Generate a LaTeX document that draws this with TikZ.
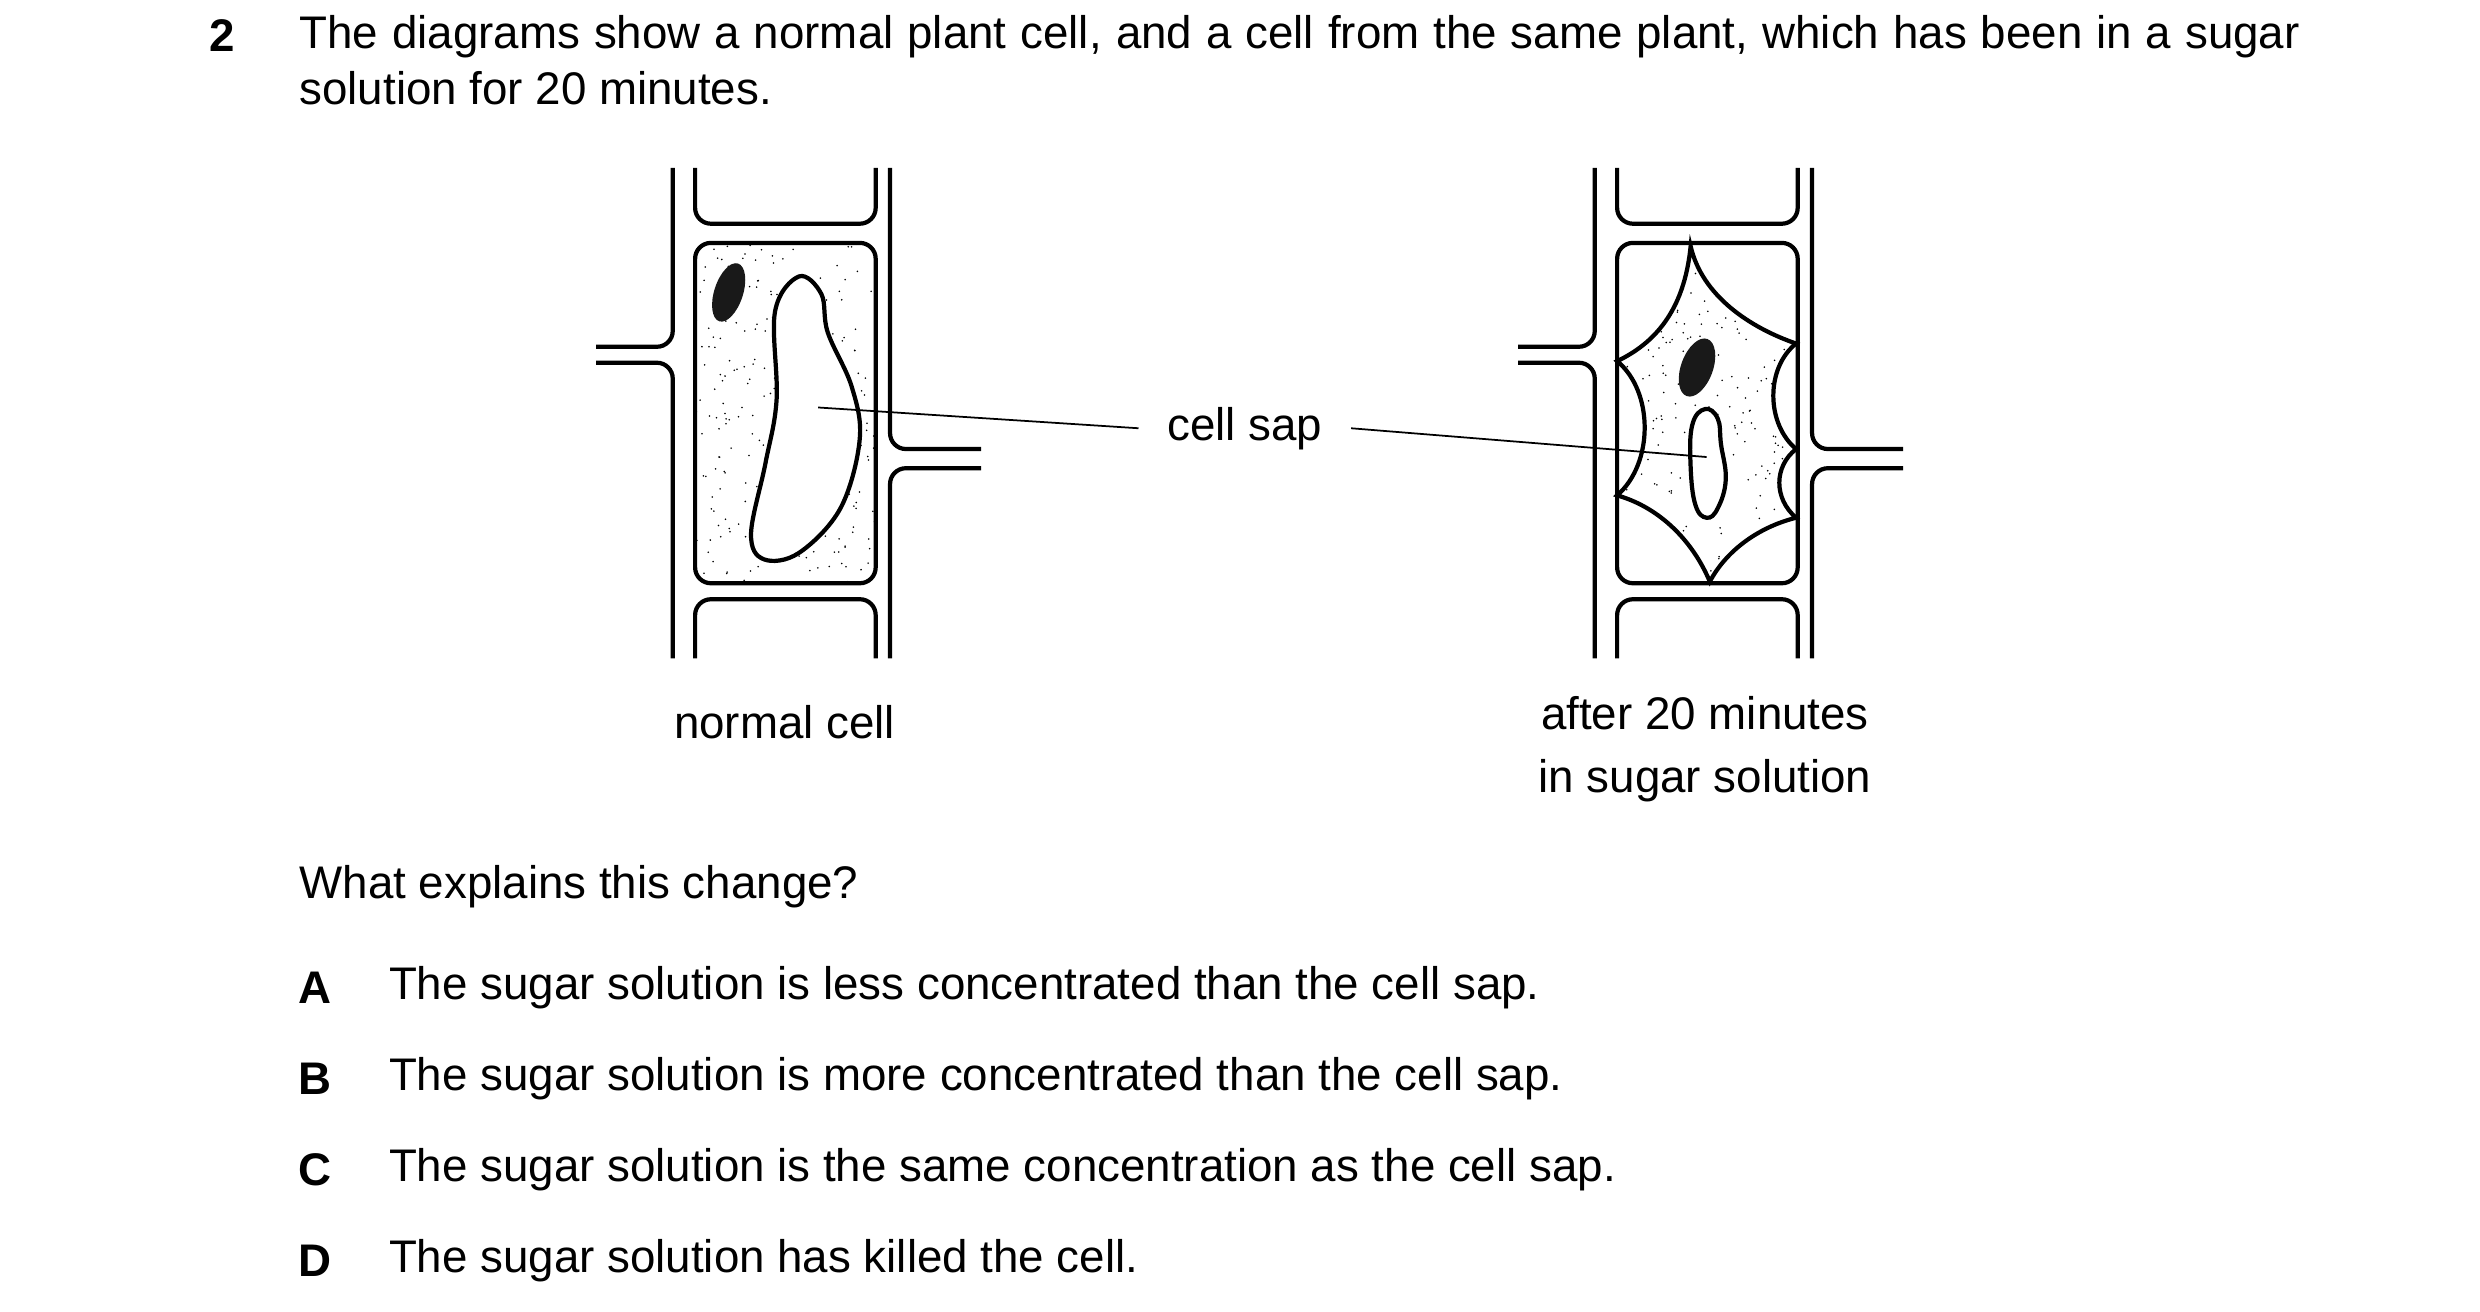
\documentclass[tikz,border=0pt]{standalone}
\usepackage{fontspec}
\setmainfont{Liberation Sans}
\usepackage{tikz}

\tikzset{
  wall/.style={line width=1.2pt, rounded corners=4.5pt},
  sapline/.style={line width=0.5pt},
  txt/.style={inner sep=0pt, font=\fontsize{13pt}{16pt}\selectfont},
}

\begin{document}
\begin{tikzpicture}[x=0.01598cm, y=-0.01598cm]
\useasboundingbox (0,0) rectangle (1552,821);

% question text
\node[txt, font=\fontsize{13pt}{16pt}\selectfont\bfseries] (qnum) at (139,22) {2};
\node[txt, anchor=north west, text width=20cm, align=justify] (qtext) at (187,9)
  {The diagrams show a normal plant cell, and a cell from the same plant, which has been in a sugar solution for 20 minutes.};

% normal cell
\pgfmathsetseed{7}
\begin{scope}
\clip[rounded corners=4.5pt] (435,152) rectangle (548,365);
\foreach \i in {1,...,260}
  \fill ({435+113*rnd},{152+213*rnd}) circle (0.55);
\end{scope}
\draw[wall] (421,105) -- (421,217) -- (373,217);
\draw[wall] (373,227) -- (421,227) -- (421,412);
\draw[wall] (557,105) -- (557,281) -- (614,281);
\draw[wall] (614,293) -- (557,293) -- (557,412);
\draw[wall] (435,105) -- (435,140) -- (548,140) -- (548,105);
\draw[wall] (435,152) rectangle (548,365);
\draw[wall] (435,412) -- (435,375) -- (548,375) -- (548,412);
\draw[line width=1.2pt, fill=white] plot[smooth cycle, tension=0.6] coordinates
  {(500,173) (514,184) (518,208) (533,242) (538,275) (526,318) (500,346) (478,350) (470,334) (479,290) (486,250) (485,195)};
\fill[black!90] (456,183) ellipse[x radius=9, y radius=19, rotate=-18];
\coordinate (vacL) at (512,255);

% after 20 minutes
\pgfmathsetseed{11}
\begin{scope}
\clip (1058,154) .. controls (1054,195) and (1035,215) .. (1012,226)
  .. controls (1035,245) and (1035,290) .. (1012,310)
  .. controls (1040,318) and (1060,340) .. (1070,364)
  .. controls (1080,345) and (1100,330) .. (1124,324)
  .. controls (1110,312) and (1110,292) .. (1124,281)
  .. controls (1105,265) and (1105,230) .. (1124,215)
  .. controls (1095,205) and (1065,185) .. (1058,154);
\foreach \i in {1,...,260}
  \fill ({1012+112*rnd},{154+210*rnd}) circle (0.55);
\end{scope}
\begin{scope}[shift={(577,0)}]
\draw[wall] (421,105) -- (421,217) -- (373,217);
\draw[wall] (373,227) -- (421,227) -- (421,412);
\draw[wall] (557,105) -- (557,281) -- (614,281);
\draw[wall] (614,293) -- (557,293) -- (557,412);
\draw[wall] (435,105) -- (435,140) -- (548,140) -- (548,105);
\draw[wall] (435,152) rectangle (548,365);
\draw[wall] (435,412) -- (435,375) -- (548,375) -- (548,412);
\end{scope}
\draw[line width=1.2pt, line join=miter] (1058,154) .. controls (1054,195) and (1035,215) .. (1012,226)
  .. controls (1035,245) and (1035,290) .. (1012,310)
  .. controls (1040,318) and (1060,340) .. (1070,364)
  .. controls (1080,345) and (1100,330) .. (1124,324)
  .. controls (1110,312) and (1110,292) .. (1124,281)
  .. controls (1105,265) and (1105,230) .. (1124,215)
  .. controls (1095,205) and (1065,185) .. cycle;
\draw[line width=1.2pt, fill=white] plot[smooth cycle, tension=0.7] coordinates
  {(1067,256) (1075,262) (1077,278) (1080,300) (1075,318) (1068,324) (1061,316) (1058,292) (1059,266)};
\fill[black!90] (1062,230) ellipse[x radius=10, y radius=19, rotate=-20];
\coordinate (vacR) at (1068,286);

% labels
\node[txt, inner xsep=8pt] (sap) at (779,268) {cell sap};
\draw[sapline] (vacL) -- (sap.west);
\draw[sapline] (sap.east) -- (vacR);
\node[txt] (normal) at (491,452) {normal cell};
\node[txt, align=center] (after) at (1067,469) {after 20 minutes\\[2pt]in sugar solution};

% options
\node[txt, anchor=west] (ask) at (187,555) {What explains this change?};
\foreach \y/\l/\t [count=\n] in {
  618/A/The sugar solution is less concentrated than the cell sap.,
  675/B/The sugar solution is more concentrated than the cell sap.,
  732/C/The sugar solution is the same concentration as the cell sap.,
  789/D/The sugar solution has killed the cell.}{
  \node[txt, font=\fontsize{13pt}{16pt}\selectfont\bfseries] (lab\n) at (197,\y) {\l};
  \node[txt, anchor=west] (opt\n) at (243,\y) {\t};
}
\end{tikzpicture}
\end{document}
